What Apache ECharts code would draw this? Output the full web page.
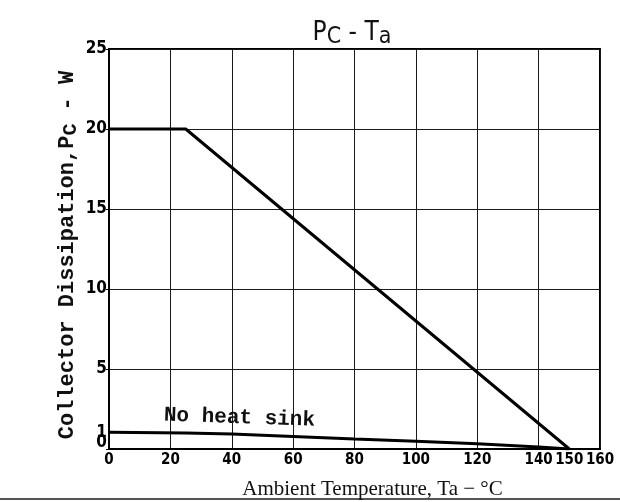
<!DOCTYPE html>
<html>
<head>
<meta charset="utf-8">
<script src="https://cdn.jsdelivr.net/npm/echarts@6/dist/echarts.min.js"></script>
<style>html,body{margin:0;padding:0;background:#fff}#c{width:620px;height:502px}</style>
</head>
<body>
<div id="c"></div>
<script>
// Data (Ta in °C, Pc in W)
const withHeatSinkTa = [0, 25, 150];
const withHeatSinkPc = [20, 20, 0];
const noHeatSinkTa = [0, 25, 40, 60, 80, 100, 120, 140, 150];
const noHeatSinkPc = [1.05, 1.0, 0.93, 0.78, 0.63, 0.49, 0.33, 0.12, 0];
const xTickLabels = [0, 20, 40, 60, 80, 100, 120, 140, 150, 160];
const yTickLabels = [1, 5, 10, 15, 20, 25];
const yZeroLabel = 0;

const TICK_FONT = '"DejaVu Sans Condensed", "Liberation Sans Narrow", sans-serif';
const MONO_FONT = '"Liberation Mono", "DejaVu Sans Mono", monospace';
const SERIF_FONT = '"Liberation Serif", "DejaVu Serif", serif';

const chart = echarts.init(document.getElementById('c'), null, {renderer: 'canvas'});
const pairs = (xs, ys) => xs.map((x, i) => [x, ys[i]]);

chart.setOption({
  animation: false,
  backgroundColor: '#fff',
  title: {
    text: '{p|P}{s|C}{p| - T}{s|a}',
    left: 347, top: 14, textAlign: 'center',
    textStyle: {
      fontWeight: 'normal',
      rich: {
        p: {fontFamily: TICK_FONT, fontWeight: 'normal', fontSize: 26, color: '#111', lineHeight: 28},
        s: {fontFamily: TICK_FONT, fontWeight: 'normal', fontSize: 23, color: '#111', lineHeight: 28, padding: [8, 0, 0, 0]}
      }
    }
  },
  grid: {left: 109, right: 20, top: 49, bottom: 53, show: true, borderWidth: 2, borderColor: '#000',
         backgroundColor: 'transparent', containLabel: false, outerBoundsMode: 'none'},
  xAxis: [
    {
      type: 'value', min: 0, max: 160, interval: 10,
      name: 'Ambient Temperature, Ta − °C', nameLocation: 'middle', nameGap: 30, nameMoveOverlap: false,
      nameTextStyle: {fontFamily: SERIF_FONT, fontSize: 21, color: '#111', padding: [0, 0, 0, 36]},
      axisLine: {show: true, onZero: false, lineStyle: {color: '#000', width: 2}},
      axisTick: {show: false},
      splitLine: {show: false},
      axisLabel: {
        margin: 4, fontFamily: TICK_FONT, fontWeight: 'bold', fontSize: 15, color: '#000',
        showMinLabel: true, showMaxLabel: true, hideOverlap: false,
        formatter: v => xTickLabels.includes(v) ? String(v) : ''
      }
    },
    {
      type: 'value', min: 0, max: 160, interval: 20, position: 'bottom',
      axisLine: {show: false}, axisTick: {show: false}, axisLabel: {show: false},
      splitLine: {show: true, lineStyle: {color: '#1a1a1a', width: 1}}
    }
  ],
  yAxis: [
    {
      type: 'value', min: 0, max: 25, interval: 1,
      name: '{m|Collector Dissipation,P}{s|C}{m| - W}', nameLocation: 'middle', nameGap: 30, nameRotate: 90,
      nameMoveOverlap: false,
      nameTextStyle: {
        padding: [0, 12, 0, 0],
        rich: {
          m: {fontFamily: MONO_FONT, fontWeight: 'bold', fontSize: 22, color: '#111', lineHeight: 24},
          s: {fontFamily: MONO_FONT, fontWeight: 'bold', fontSize: 20, color: '#111', lineHeight: 24, padding: [8, 0, 0, 0]}
        }
      },
      axisLine: {show: true, onZero: false, lineStyle: {color: '#000', width: 2}},
      axisTick: {show: false},
      splitLine: {show: false},
      axisLabel: {
        margin: 2, fontFamily: TICK_FONT, fontWeight: 'bold', fontSize: 17, color: '#000',
        showMinLabel: false, showMaxLabel: true, hideOverlap: false,
        formatter: v => yTickLabels.includes(v) ? String(v) : ''
      }
    },
    {
      type: 'value', min: 0, max: 25, interval: 5, position: 'left',
      axisLine: {show: false}, axisLabel: {show: false},
      axisTick: {show: true, length: 3, lineStyle: {color: '#000', width: 1}},
      splitLine: {show: true, lineStyle: {color: '#1a1a1a', width: 1}}
    },
    {
      type: 'value', min: 0, max: 25, interval: 25, position: 'left',
      axisLine: {show: false}, axisTick: {show: false}, splitLine: {show: false},
      axisLabel: {
        margin: 2, showMinLabel: true, showMaxLabel: false,
        formatter: v => v === yZeroLabel ? '{z|' + v + '}' : '',
        rich: {z: {fontFamily: TICK_FONT, fontWeight: 'bold', fontSize: 17, color: '#000', padding: [0, 0, 12, 0]}}
      }
    }
  ],
  series: [
    {
      name: 'With heat sink', type: 'line', xAxisIndex: 0, yAxisIndex: 0,
      data: pairs(withHeatSinkTa, withHeatSinkPc),
      showSymbol: false, symbol: 'none',
      lineStyle: {color: '#000', width: 3}
    },
    {
      name: 'No heat sink', type: 'line', xAxisIndex: 0, yAxisIndex: 0,
      data: pairs(noHeatSinkTa, noHeatSinkPc),
      showSymbol: false, symbol: 'none',
      lineStyle: {color: '#000', width: 3},
      markPoint: {
        symbol: 'circle', symbolSize: 0,
        data: [{coord: [42.5, 1.95], value: 'No heat sink'}],
        label: {
          show: true, position: 'inside', rotate: -2,
          formatter: 'No heat sink',
          fontFamily: MONO_FONT, fontSize: 21, fontWeight: 'bold', color: '#111'
        }
      }
    }
  ],
  graphic: [
    {type: 'rect', left: 0, top: 498, shape: {width: 620, height: 2}, style: {fill: '#555'}, silent: true}
  ]
});
</script>
</body>
</html>
